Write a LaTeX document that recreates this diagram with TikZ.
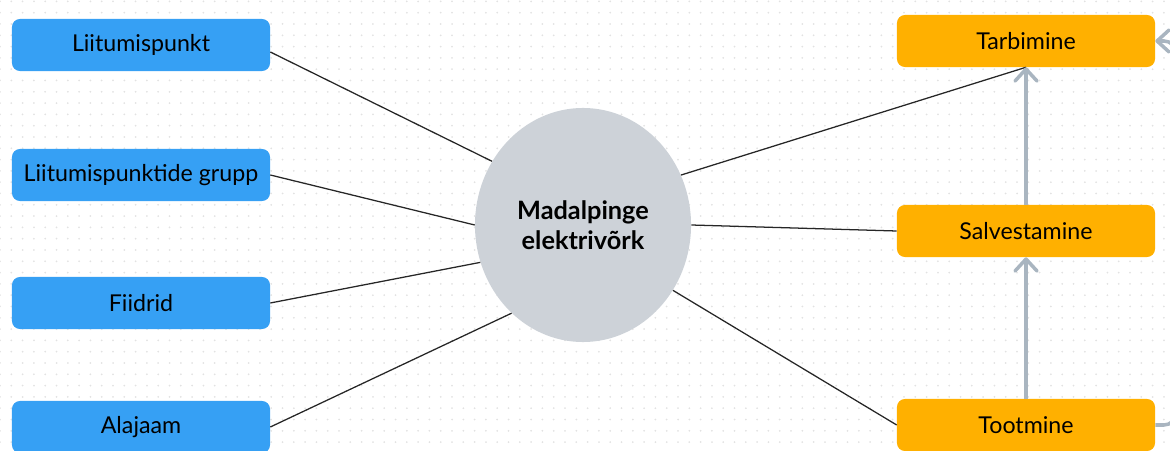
\documentclass[tikz,border=0pt]{standalone}
\usepackage{fontspec}
\setmainfont{Lato}
\usepackage{tikz}
\usetikzlibrary{arrows.meta, shapes.geometric, positioning, calc}

\definecolor{boxblue}{HTML}{36A0F4}
\definecolor{boxorange}{HTML}{FFB000}
\definecolor{hubgray}{HTML}{CDD2D8}
\definecolor{flowgray}{HTML}{A9B5C0}
\definecolor{dotgray}{HTML}{E2E2E2}

\begin{document}
\begin{tikzpicture}[x=0.025cm, y=-0.025cm]
\tikzstyle{part}=[rectangle, rounded corners=0.2cm, minimum width=6.45cm, minimum height=1.3cm, fill=boxblue, font=\fontsize{16.5}{20}\selectfont, text=black]
\tikzstyle{use}=[part, fill=boxorange]
\tikzstyle{hub}=[ellipse, minimum width=5.4cm, minimum height=5.85cm, fill=hubgray, align=center, font=\fontsize{18}{21}\selectfont\bfseries]
\tikzstyle{connect}=[-, line width=0.9pt, black!85]
\tikzstyle{flow}=[-{Straight Barb[length=3mm, width=5.5mm, round]}, line width=2.5pt, flowgray]
\useasboundingbox (0,0) rectangle (1170,451);
% dotted background
\foreach \i in {0,...,103}
  \foreach \j in {0,...,39}
    \fill[dotgray] (11.3*\i, 1.4+11.3*\j) circle (0.025cm);
\node[hub] (mv) at (583, 225) {Madalpinge\\elektrivõrk};
\node[part] (lp) at (141, 45) {Liitumispunkt};
\node[part] (lg) at (141, 175) {Liitumispunktide grupp};
\node[part] (fd) at (141, 303) {Fiidrid};
\node[part] (aj) at (141, 427) {Alajaam};
\node[use] (tb) at (1026, 41) {Tarbimine};
\node[use] (sv) at (1026, 231) {Salvestamine};
\node[use] (tt) at (1026, 425) {Tootmine};
\coordinate (ret) at (1176, 230);
\path (mv.145) edge [connect] ($(lp.east)+(0,7)$);
\path (mv.180) edge [connect] (lg.east);
\path (mv.200) edge [connect] (fd.east);
\path (mv.231) edge [connect] (aj.east);
\path (mv.27) edge [connect] (tb.south);
\path (mv.0) edge [connect] (sv.west);
\path (mv.-36) edge [connect] (tt.west);
\draw[flow] (tt.north) -- (sv.south);
\draw[flow] (sv.north) -- (tb.south);
\draw[flow, rounded corners=0.3cm] (tt.east) -| (ret) |- (tb.east);
\end{tikzpicture}
\end{document}
